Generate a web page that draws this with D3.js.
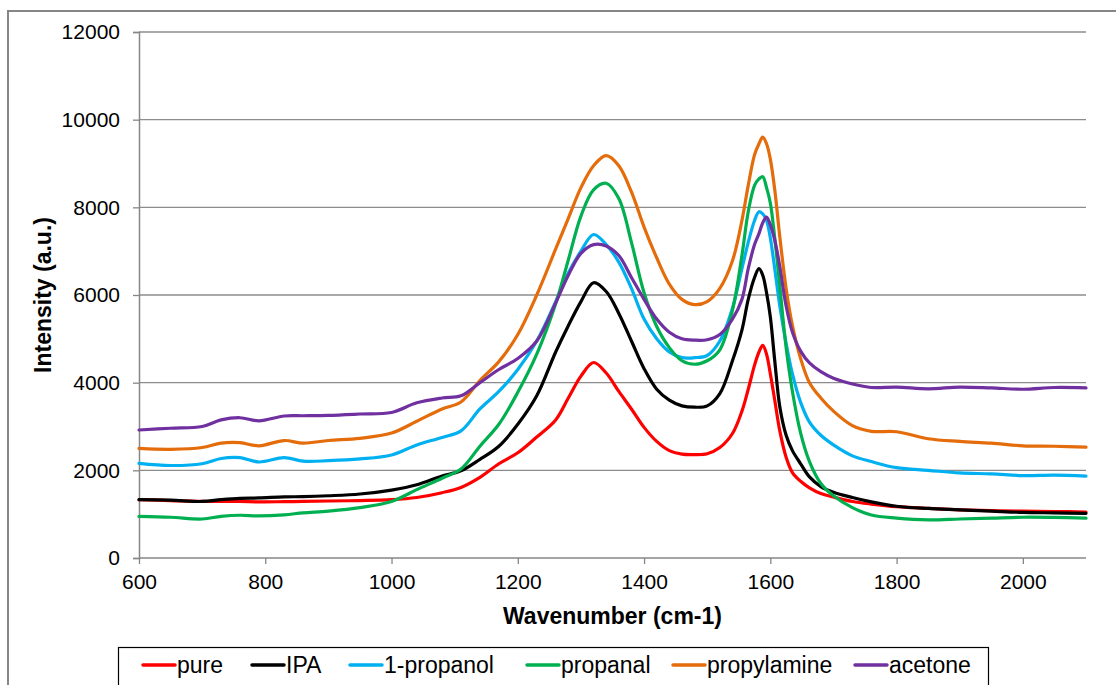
<!DOCTYPE html>
<html><head><meta charset="utf-8">
<script src="https://cdn.jsdelivr.net/npm/d3@7"></script>
<style>body{margin:0;background:#fff;}svg{display:block;font-family:"Liberation Sans",Arial,sans-serif;}</style>
</head><body>
<svg id="chart" width="1116" height="685"></svg>
<script>
const wavenumbers = [600,650,700,730,760,790,830,860,900,950,1000,1040,1080,1110,1140,1170,1200,1230,1260,1280,1300,1320,1340,1360,1380,1400,1420,1440,1460,1480,1500,1520,1540,1555,1565,1575,1582,1588,1594,1600,1607,1615,1625,1635,1648,1662,1680,1700,1730,1760,1800,1850,1900,1950,2000,2050,2100];

const pure = [1330,1310,1290,1290,1290,1280,1285,1290,1300,1310,1330,1380,1490,1610,1840,2150,2400,2760,3150,3650,4150,4460,4220,3800,3400,2980,2660,2450,2370,2360,2380,2520,2840,3350,3850,4400,4700,4850,4650,4200,3600,2900,2300,1950,1750,1600,1470,1390,1290,1230,1170,1130,1100,1080,1070,1060,1050];
const ipa = [1330,1320,1290,1330,1360,1370,1395,1400,1420,1460,1550,1670,1870,1990,2250,2550,3050,3700,4700,5300,5850,6280,6080,5580,4950,4320,3850,3600,3470,3440,3470,3750,4500,5200,5900,6400,6600,6450,6050,5500,4500,3450,2800,2450,2150,1850,1630,1500,1380,1280,1180,1130,1100,1070,1040,1030,1020];
const propanol = [2160,2110,2150,2270,2290,2190,2290,2210,2220,2260,2350,2580,2750,2900,3400,3800,4300,4950,5850,6500,7000,7380,7150,6750,6150,5450,5000,4700,4570,4570,4620,4950,5700,6600,7200,7700,7900,7850,7700,7300,6600,5750,4900,4200,3550,3100,2800,2580,2330,2200,2060,2000,1940,1920,1880,1890,1870];
const propanal = [950,930,890,950,975,960,985,1030,1070,1150,1290,1560,1820,2030,2550,3050,3780,4650,5800,6800,7800,8400,8550,8200,7200,6050,5280,4800,4500,4420,4500,4750,5650,6900,7900,8500,8650,8700,8450,8100,7300,6200,4800,3800,2850,2200,1700,1420,1150,980,910,870,890,910,930,925,910];
const propylamine = [2500,2480,2520,2620,2630,2560,2680,2620,2680,2730,2850,3120,3400,3560,4050,4480,5100,6000,7050,7750,8450,8950,9180,8950,8350,7550,6850,6250,5900,5780,5850,6150,6780,7700,8500,9200,9450,9600,9450,9100,8400,7330,6150,5300,4550,4000,3650,3350,3020,2890,2880,2720,2660,2620,2560,2550,2530];
const acetone = [2920,2960,3000,3150,3200,3130,3240,3245,3255,3285,3320,3540,3650,3700,4000,4300,4550,4950,5820,6450,6950,7150,7120,6900,6400,5900,5450,5150,5000,4970,4980,5100,5450,5900,6600,7150,7400,7650,7780,7600,7250,6650,5750,5150,4720,4450,4250,4100,3970,3890,3900,3860,3900,3880,3850,3890,3880];

const seriesNames = ["pure","IPA","1-propanol","propanal","propylamine","acetone"];
const seriesValues = [pure, ipa, propanol, propanal, propylamine, acetone];
const seriesColors = ["#FF0000","#000000","#00B0F0","#00B050","#E46C0A","#7030A0"];
const xTicks = [600,800,1000,1200,1400,1600,1800,2000];
const yTicks = [0,2000,4000,6000,8000,10000,12000];

const svg = d3.select("#chart");
const mL = 139, mR = 1086, mT = 32, mB = 558;

// outer chart border
svg.append("rect").attr("x",8).attr("y",11).attr("width",1130).attr("height",700)
  .attr("fill","#fff").attr("stroke","#868686").attr("stroke-width",2);

const x = d3.scaleLinear().domain([600,2100]).range([mL,mR]);
const y = d3.scaleLinear().domain([0,12000]).range([mB,mT]);

// gridlines
svg.append("g").selectAll("line").data(yTicks.filter(d=>d>0)).join("line")
  .attr("x1",mL).attr("x2",mR).attr("y1",d=>y(d)).attr("y2",d=>y(d))
  .attr("stroke","#8c8c8c").attr("stroke-width",1.3);

// y axis
const yAxis = svg.append("g").attr("transform",`translate(${mL},0)`)
  .call(d3.axisLeft(y).tickValues(yTicks).tickSize(6).tickPadding(13).tickFormat(d3.format("d")));
yAxis.select(".domain").attr("stroke","#868686").attr("stroke-width",1.5);
yAxis.selectAll(".tick line").attr("stroke","#868686").attr("stroke-width",1.3);
yAxis.selectAll("text").attr("font-size",21).attr("fill","#000").attr("font-family","Liberation Sans, Arial, sans-serif");

// x axis
const xAxis = svg.append("g").attr("transform",`translate(0,${mB})`)
  .call(d3.axisBottom(x).tickValues(xTicks).tickSize(6).tickPadding(10).tickFormat(d3.format("d")));
xAxis.select(".domain").attr("stroke","#868686").attr("stroke-width",1.5).attr("d",`M${mL},0H${mR}`);
xAxis.selectAll(".tick line").attr("stroke","#868686").attr("stroke-width",1.3);
xAxis.selectAll("text").attr("font-size",21).attr("fill","#000").attr("font-family","Liberation Sans, Arial, sans-serif");

// lines
const line = d3.line().x((d,i)=>x(wavenumbers[i])).y(d=>y(d)).curve(d3.curveCatmullRom.alpha(0.5));
svg.append("g").selectAll("path").data(seriesValues).join("path")
  .attr("d",d=>line(d)).attr("fill","none")
  .attr("stroke",(d,i)=>seriesColors[i]).attr("stroke-width",3.2)
  .attr("stroke-linejoin","round").attr("stroke-linecap","round");

// axis titles
svg.append("text").attr("x",(mL+mR)/2).attr("y",624).attr("text-anchor","middle")
  .attr("font-size",23).attr("font-weight","bold").text("Wavenumber (cm-1)");
svg.append("text").attr("transform",`translate(51,${(mT+mB)/2}) rotate(-90)`).attr("text-anchor","middle")
  .attr("font-size",23).attr("font-weight","bold").text("Intensity (a.u.)");

// legend
const lg = svg.append("g");
lg.append("rect").attr("x",118.5).attr("y",647.5).attr("width",870).attr("height",40)
  .attr("fill","#fff").attr("stroke","#000").attr("stroke-width",1.2);
const legendX = [143,252,350,527,673,855];
const ly = 665;
seriesNames.forEach((n,i)=>{
  lg.append("line").attr("x1",legendX[i]).attr("x2",legendX[i]+32).attr("y1",ly).attr("y2",ly)
    .attr("stroke",seriesColors[i]).attr("stroke-width",3.5).attr("stroke-linecap","round");
  lg.append("text").attr("x",legendX[i]+34).attr("y",ly+8).attr("font-size",23).attr("fill","#000").text(n);
});
</script>
</body></html>
